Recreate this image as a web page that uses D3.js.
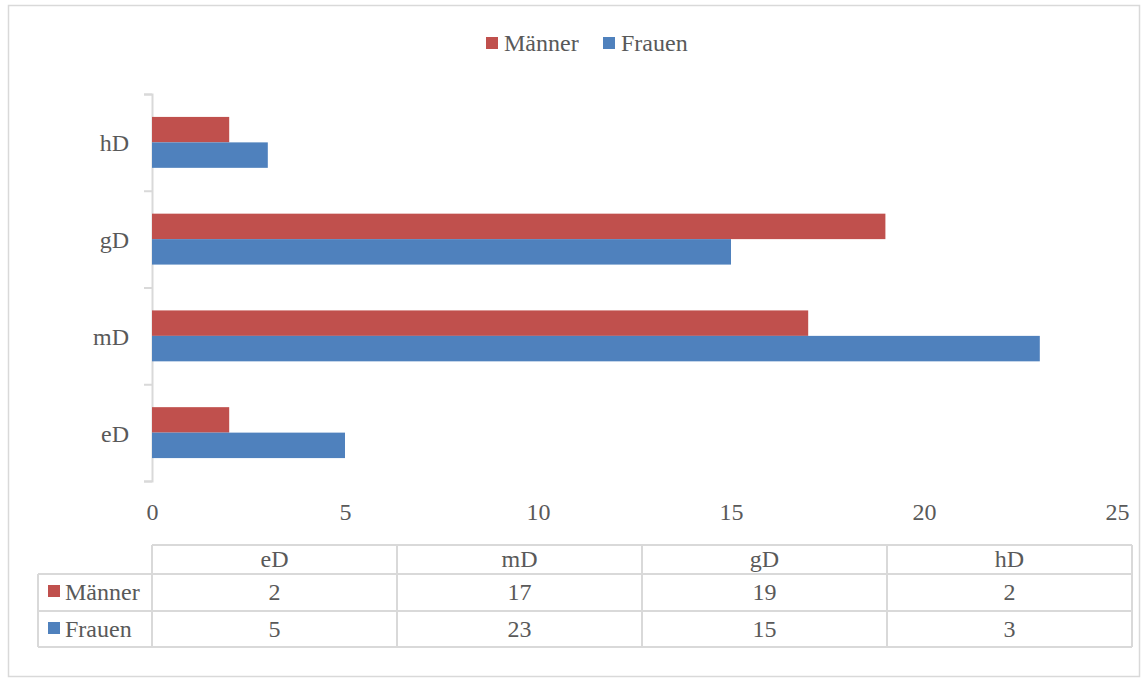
<!DOCTYPE html>
<html>
<head>
<meta charset="utf-8">
<script src="https://cdn.jsdelivr.net/npm/d3@7"></script>
<style>
  html, body { margin: 0; padding: 0; background: #fff; }
  svg text { font-family: "Liberation Serif", serif; fill: #595959; }
</style>
</head>
<body>
<div id="chart"></div>
<script>
// data
const categories = ["eD", "mD", "gD", "hD"];
const seriesNames = ["Männer", "Frauen"];
const maenner = [2, 17, 19, 2];
const frauen = [5, 23, 15, 3];
const xTicks = [0, 5, 10, 15, 20, 25];

const colors = { "Männer": "#C0504D", "Frauen": "#4F81BD" };
const seriesValues = { "Männer": maenner, "Frauen": frauen };
const gridColor = "#d9d9d9";
const fontSize = 24;

const w = 1148, h = 679;
const svg = d3.select("#chart").append("svg")
    .attr("width", w).attr("height", h);

// outer frame
svg.append("rect")
    .attr("x", 8.5).attr("y", 5.5)
    .attr("width", 1131).attr("height", 671)
    .attr("fill", "#fff")
    .attr("stroke", gridColor).attr("stroke-width", 1.5);

// scales
const x = d3.scaleLinear().domain([0, 25]).range([152, 1117]);
const yCat = d3.scaleBand().domain(categories).range([481, 94]);
const ySub = d3.scaleBand().domain(seriesNames)
    .range([0, yCat.bandwidth()])
    .paddingInner(0).paddingOuter(0.9);

// y axis: line + ticks at category boundaries
const yEdge = d3.scaleLinear().domain([0, categories.length]).range([481, 94]);
const yAxis = svg.append("g")
    .attr("transform", "translate(152,0)")
    .call(d3.axisLeft(yEdge).ticks(categories.length).tickSize(8).tickSizeOuter(8).tickFormat(""));
yAxis.selectAll("path, line").attr("stroke", gridColor).attr("stroke-width", 2);

svg.append("g").selectAll("text")
    .data(categories)
    .enter().append("text")
    .attr("x", 129)
    .attr("y", d => yCat(d) + yCat.bandwidth() / 2 + 9)
    .attr("text-anchor", "end")
    .style("font-size", fontSize + "px")
    .text(d => d);

// x axis labels
const xAxis = svg.append("g")
    .attr("transform", "translate(0,503)")
    .call(d3.axisBottom(x).tickValues(xTicks).tickSize(0).tickPadding(0));
xAxis.select(".domain").remove();
xAxis.selectAll("text")
    .attr("dy", "0.71em")
    .style("font-family", "Liberation Serif")
    .style("font-size", fontSize + "px")
    .style("fill", "#595959");

// bars
const groups = svg.append("g").selectAll("g")
    .data(categories)
    .enter().append("g")
    .attr("transform", d => `translate(0,${yCat(d)})`);

groups.selectAll("rect")
    .data((c, i) => seriesNames.map(s => ({ s, v: seriesValues[s][i] })))
    .enter().append("rect")
    .attr("x", x(0))
    .attr("y", d => ySub(d.s))
    .attr("width", d => x(d.v) - x(0))
    .attr("height", ySub.bandwidth())
    .attr("fill", d => colors[d.s]);

// legend
const legend = svg.append("g");
const legendPos = [{ s: "Männer", x: 486 }, { s: "Frauen", x: 603 }];
legend.selectAll("rect")
    .data(legendPos)
    .enter().append("rect")
    .attr("x", d => d.x).attr("y", 37)
    .attr("width", 12).attr("height", 12)
    .attr("fill", d => colors[d.s]);
legend.selectAll("text")
    .data(legendPos)
    .enter().append("text")
    .attr("x", d => d.x + 18).attr("y", 51)
    .style("font-size", fontSize + "px")
    .text(d => d.s);

// data table
const colX = d3.scaleBand().domain(categories).range([152, 1132]);
const rowY = [545, 574, 611, 647];
const tableLeft = 38;
const table = svg.append("g").attr("stroke", gridColor).attr("stroke-width", 2);

// horizontal lines
table.append("line").attr("x1", 152).attr("x2", 1132).attr("y1", rowY[0]).attr("y2", rowY[0]);
rowY.slice(1).forEach(yy => {
    table.append("line").attr("x1", tableLeft).attr("x2", 1132).attr("y1", yy).attr("y2", yy);
});
// vertical lines
table.append("line").attr("x1", tableLeft).attr("x2", tableLeft).attr("y1", rowY[1]).attr("y2", rowY[3]);
categories.forEach(c => {
    table.append("line").attr("x1", colX(c)).attr("x2", colX(c)).attr("y1", rowY[0]).attr("y2", rowY[3]);
});
table.append("line").attr("x1", 1132).attr("x2", 1132).attr("y1", rowY[0]).attr("y2", rowY[3]);

const tableText = svg.append("g").style("font-size", fontSize + "px");
tableText.selectAll("text.head")
    .data(categories)
    .enter().append("text")
    .attr("class", "head")
    .attr("x", d => colX(d) + colX.bandwidth() / 2)
    .attr("y", 567)
    .attr("text-anchor", "middle")
    .text(d => d);

const rowBase = [600, 637];
seriesNames.forEach((s, r) => {
    svg.append("rect")
        .attr("x", 48).attr("y", rowBase[r] - 15)
        .attr("width", 12).attr("height", 12)
        .attr("fill", colors[s]);
    tableText.append("text")
        .attr("x", 65).attr("y", rowBase[r])
        .text(s);
    tableText.selectAll("text.v" + r)
        .data(seriesValues[s])
        .enter().append("text")
        .attr("class", "v" + r)
        .attr("x", (d, i) => colX(categories[i]) + colX.bandwidth() / 2)
        .attr("y", rowBase[r])
        .attr("text-anchor", "middle")
        .text(d => d);
});
</script>
</body>
</html>
